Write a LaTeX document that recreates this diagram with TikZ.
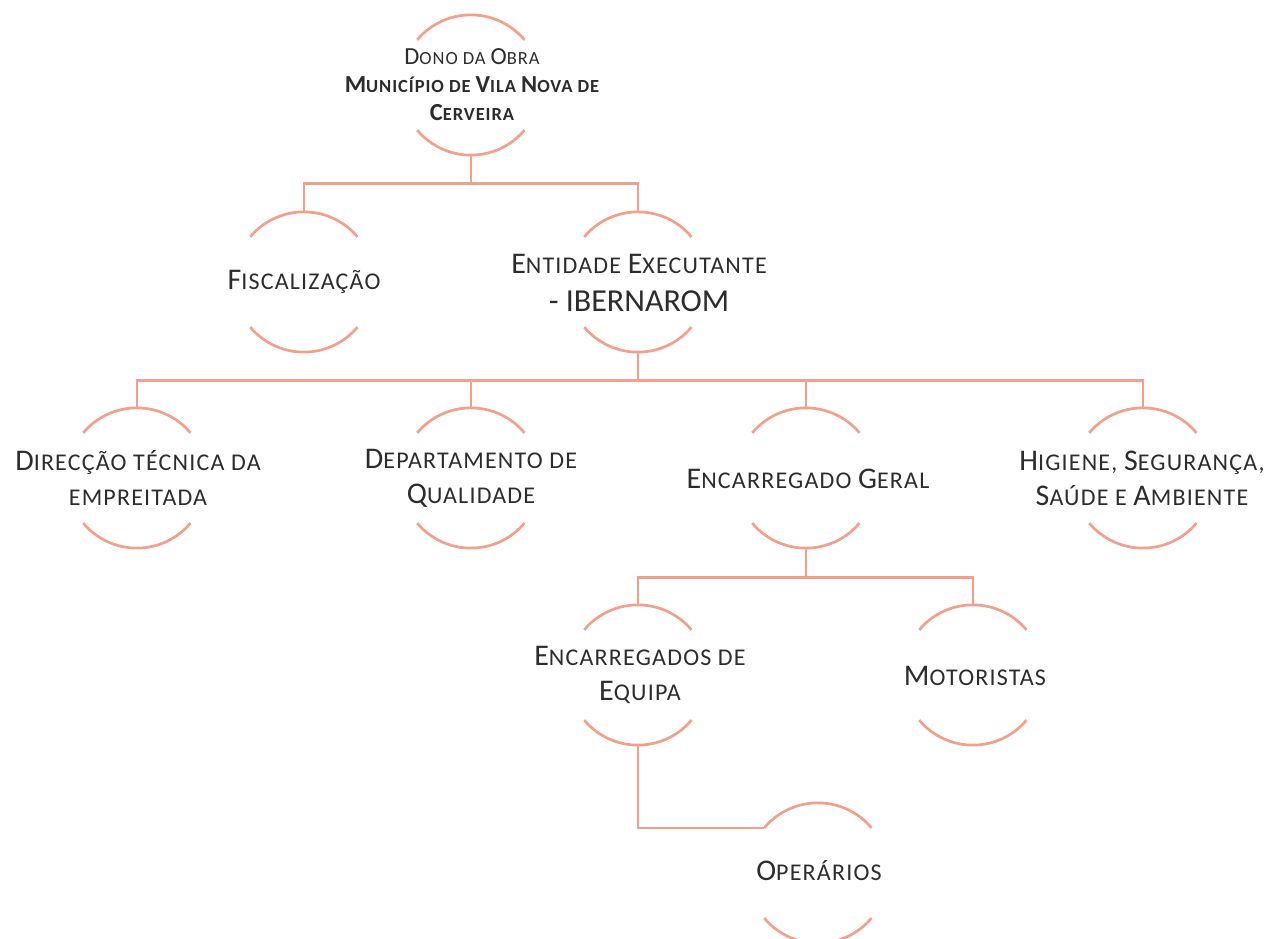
\documentclass[tikz,border=0pt]{standalone}
\usepackage{fontspec}
\newfontfamily\labfont[LetterSpace=5]{Carlito}
\newfontfamily\tightfont{Carlito}
\definecolor{linec}{HTML}{F0A08C}
\definecolor{textc}{HTML}{2C2C2C}
\def\bsz{30pt}\def\ssz{24pt}\def\lsk{35pt}
\newcommand\BigL[1]{{\fontsize{\bsz}{\lsk}\selectfont #1}}
\newcommand\SmL[1]{{\fontsize{\ssz}{\lsk}\selectfont #1}}
\tikzset{
  ring/.style={circle, minimum size=140pt, inner sep=0pt, draw=none},
  lab/.style={align=center, text=textc, inner sep=0pt, font=\labfont\fontsize{30pt}{35pt}\selectfont},
  toplab/.style={align=center, text=textc, inner sep=0pt,
    font=\def\bsz{24.5pt}\def\ssz{18.5pt}\def\lsk{28pt}\labfont\fontsize{24.5pt}{28pt}\selectfont},
  conn/.style={draw=linec, line width=2.7pt},
}
\begin{document}
\begin{tikzpicture}[x=1pt,y=1pt]
\useasboundingbox (0,0) rectangle (1275,938);
% circles
\node[ring] (top)  at (471,853) {};
\node[ring] (fisc) at (304,656) {};
\node[ring] (ent)  at (638,656) {};
\node[ring] (dir)  at (137,460) {};
\node[ring] (dep)  at (471,460) {};
\node[ring] (encg) at (806,460) {};
\node[ring] (hig)  at (1143,460) {};
\node[ring] (ence) at (638,263) {};
\node[ring] (mot)  at (973,263) {};
\node[ring] (op)   at (818,65) {};
\foreach \n in {top,fisc,ent,dir,dep,encg,hig,ence,mot,op}{
  \draw[conn] (\n.140) arc[start angle=140,end angle=40,radius=70pt];
  \draw[conn] (\n.220) arc[start angle=220,end angle=320,radius=70pt];
}
% labels
\node[toplab] (ttop) at (472,853) {\BigL{D}\SmL{ONO DA }\BigL{O}\SmL{BRA}\\
  \bfseries\BigL{M}\SmL{UNICÍPIO DE }\BigL{V}\SmL{ILA }\BigL{N}\SmL{OVA DE}\\
  \bfseries\BigL{C}\SmL{ERVEIRA}};
\node[lab] (tfisc) at (304,656) {\BigL{F}\SmL{ISCALIZAÇÃO}};
\node[lab] (tent) at (639,655) {\BigL{E}\SmL{NTIDADE }\BigL{E}\SmL{XECUTANTE}\\[3pt]
  {\tightfont\fontsize{32pt}{35pt}\selectfont - IBERNAROM}};
\node[lab] (tdir) at (138,460) {\BigL{D}\SmL{IRECÇÃO TÉCNICA DA}\\\SmL{EMPREITADA}};
\node[lab] (tdep) at (471,460) {\BigL{D}\SmL{EPARTAMENTO DE}\\\BigL{Q}\SmL{UALIDADE}};
\node[lab] (tencg) at (808,459) {\BigL{E}\SmL{NCARREGADO }\BigL{G}\SmL{ERAL}};
\node[lab] (thig) at (1142,460) {\BigL{H}\SmL{IGIENE, }\BigL{S}\SmL{EGURANÇA,}\\\BigL{S}\SmL{AÚDE E }\BigL{A}\SmL{MBIENTE}};
\node[lab] (tence) at (640,263) {\BigL{E}\SmL{NCARREGADOS DE}\\\BigL{E}\SmL{QUIPA}};
\node[lab] (tmot) at (975,262) {\BigL{M}\SmL{OTORISTAS}};
\node[lab] (top2) at (819,67) {\BigL{O}\SmL{PERÁRIOS}};
% connectors
\draw[conn] (top.south) -- ++(0,-28) coordinate (b1);
\draw[conn] (b1) -| (fisc.north);
\draw[conn] (b1) -| (ent.north);
\draw[conn] (ent.south) -- ++(0,-28) coordinate (b2);
\draw[conn] (b2) -| (dir.north);
\draw[conn] (b2) -| (dep.north);
\draw[conn] (b2) -| (encg.north);
\draw[conn] (b2) -| (hig.north);
\draw[conn] (encg.south) -- ++(0,-29) coordinate (b3);
\draw[conn] (b3) -| (ence.north);
\draw[conn] (b3) -| (mot.north);
\draw[conn] (ence.south) |- (op.140);
\end{tikzpicture}
\end{document}
